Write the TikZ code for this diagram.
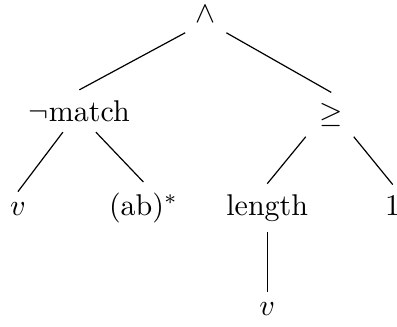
\documentclass[tikz,border=0pt]{standalone}
\usepackage{amsmath}
\usepackage{tikz}
\usetikzlibrary{positioning, calc}

\begin{document}
\begin{tikzpicture}[
          tnode/.style={anchor=base, inner sep=0.333em},
          tedge/.style={black, line width=0.4pt}
        ]
        \useasboundingbox (0, 0) rectangle (4.65, -3.82);

        % Root
        \node[tnode] (and) at (2.41, -0.26) {$\wedge$};

        % First level
        \node[tnode] (neg) at (0.93, -1.42) {$\neg$match};
        \node[tnode] (geq) at (3.88, -1.43) {$\geq$};

        % Leaves
        \node[tnode] (vl)   at (0.21, -2.52) {$v$};
        \node[tnode] (star) at (1.68, -2.52) {(ab)$^*$};
        \node[tnode] (len)  at (3.13, -2.52) {length};
        \node[tnode] (one)  at (4.60, -2.52) {1};
        \node[tnode] (vb)   at (3.13, -3.69) {$v$};

        % Edges
        \draw[tedge] (and.south west) -- (neg.north);
        \draw[tedge] (and.south east) -- (geq.north);
        \draw[tedge] ([xshift=-5.5pt]neg.south) -- (vl.north);
        \draw[tedge] ([xshift=5.5pt]neg.south) -- (star.north);
        \draw[tedge] ([xshift=-8.5pt]geq.south) -- (len.north);
        \draw[tedge] ([xshift=7.5pt]geq.south) -- (one.north);
        \draw[tedge] (len.south) -- (vb.north);
      \end{tikzpicture}
\end{document}
